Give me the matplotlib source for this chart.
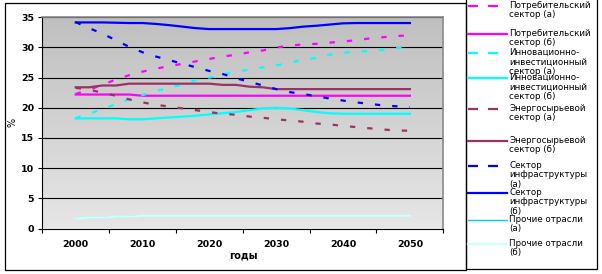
import numpy as np
import matplotlib
matplotlib.use("Agg")
import matplotlib.pyplot as plt
from matplotlib.lines import Line2D
from matplotlib.patches import Rectangle

# years of the readings (every 2 years)
years = list(range(2000, 2051, 2))

consumer_a = [22.3, 23.0, 23.8, 24.7, 25.4, 26.0, 26.5, 26.9, 27.3, 27.7, 28.1, 28.5, 28.8,
              29.2, 29.5, 30.0, 30.3, 30.5, 30.6, 30.8, 31.0, 31.2, 31.5, 31.7, 31.9, 32.0]
consumer_b = [22.2, 22.2, 22.2, 22.2, 22.2, 22.0, 22.0, 22.0, 22.0, 22.0, 22.0, 22.0, 22.0,
              22.0, 22.0, 22.0, 22.0, 22.0, 22.0, 22.0, 22.0, 22.0, 22.0, 22.0, 22.0, 22.0]
innov_a = [18.3, 19.0, 19.8, 20.6, 21.4, 22.1, 22.8, 23.3, 23.9, 24.6, 25.0, 25.5, 26.0,
           26.3, 26.7, 27.0, 27.5, 27.9, 28.3, 28.8, 29.1, 29.3, 29.4, 29.6, 29.9, 30.1]
innov_b = [18.25, 18.25, 18.25, 18.25, 18.1, 18.1, 18.25, 18.4, 18.55, 18.7, 18.9, 19.1, 19.3,
           19.6, 19.9, 20.0, 19.9, 19.6, 19.3, 19.1, 19.0, 19.0, 19.0, 19.0, 19.0, 19.0]
energy_a = [23.3, 23.0, 22.5, 22.0, 21.4, 20.9, 20.5, 20.2, 19.9, 19.6, 19.3, 19.0, 18.85,
            18.55, 18.35, 18.1, 17.9, 17.7, 17.4, 17.25, 17.0, 16.8, 16.6, 16.4, 16.25, 16.2]
energy_b = [23.4, 23.4, 23.7, 23.7, 24.0, 24.0, 24.0, 24.0, 24.0, 24.0, 24.0, 23.8, 23.8,
            23.5, 23.4, 23.1, 23.1, 23.1, 23.1, 23.1, 23.1, 23.1, 23.1, 23.1, 23.1, 23.1]
infra_a = [34.2, 33.2, 32.3, 31.2, 30.1, 29.2, 28.5, 27.9, 27.3, 26.7, 26.1, 25.6, 24.9,
           24.3, 23.7, 23.1, 22.6, 22.3, 21.9, 21.55, 21.2, 20.9, 20.65, 20.4, 20.25, 20.1]
infra_b = [34.15, 34.15, 34.15, 34.1, 34.05, 34.05, 33.9, 33.7, 33.45, 33.2, 33.05, 33.05, 33.05,
           33.05, 33.05, 33.05, 33.2, 33.45, 33.6, 33.8, 34.0, 34.05, 34.05, 34.05, 34.05, 34.05]
other_a = [1.65, 1.8, 1.8, 1.95, 1.95, 2.1, 2.1, 2.1, 2.1, 2.1, 2.1, 2.1, 2.1,
           2.1, 2.1, 2.1, 2.1, 2.1, 2.1, 2.1, 2.1, 2.1, 2.1, 2.1, 2.1, 2.1]
other_b = [1.65, 1.8, 1.8, 1.95, 1.95, 2.1, 2.1, 2.1, 2.1, 2.1, 2.1, 2.1, 2.1,
           2.1, 2.1, 2.1, 2.1, 2.1, 2.1, 2.1, 2.1, 2.1, 2.1, 2.1, 2.1, 2.1]

labels = ['Потребительский\nсектор (а)', 'Потребительский\nсектор (б)',
          'Инновационно-\nинвестиционный\nсектор (а)', 'Инновационно-\nинвестиционный\nсектор (б)',
          'Энергосырьевой\nсектор (а)', 'Энергосырьевой\nсектор (б)',
          'Сектор\nинфраструктуры\n(а)', 'Сектор\nинфраструктуры\n(б)',
          'Прочие отрасли\n(а)', 'Прочие отрасли\n(б)']
series = [consumer_a, consumer_b, innov_a, innov_b, energy_a, energy_b,
          infra_a, infra_b, other_a, other_b]
colors = ['#ff00ff', '#ff00ff', '#00ffff', '#00ffff', '#993366', '#993366',
          '#0000ff', '#0000ff', '#00ccff', '#ccffff']
dashed = [True, False, True, False, True, False, True, False, False, False]
widths = [1.6, 1.6, 1.6, 1.6, 1.6, 1.6, 1.6, 1.6, 1.0, 1.6]
# y (px) of the first text line of each legend entry
legend_y = [5, 33, 52, 77, 108, 140, 165, 192, 219, 243]

W, H = 602, 274
fig = plt.figure(figsize=(W / 100, H / 100), dpi=100)
fig.patch.set_facecolor('white')

ax = fig.add_axes([42.3 / W, 1 - 228.5 / H, 401 / W, 211.2 / H])

# gradient background of the plot area
grad = np.linspace(0, 1, 256).reshape(-1, 1)
cmap = matplotlib.colors.LinearSegmentedColormap.from_list('g', ['#bfbfbf', '#e6e6e6'])
ax.imshow(grad, cmap=cmap, extent=[0, 1, 0, 1], transform=ax.transAxes,
          aspect='auto', zorder=0)

for s, c, d, w in zip(series, colors, dashed, widths):
    ls = (0, (2.4, 5.4)) if d else '-'
    ax.plot(years, s, color=c, lw=w, linestyle=ls, zorder=3)

ax.set_xlim(1995, 2055)
ax.set_ylim(0, 35)
ax.set_yticks(range(0, 36, 5))
ax.set_xticks(range(1995, 2056, 10))
ax.set_xticklabels([])
ax.set_xticks(range(2000, 2051, 10), minor=True)
ax.set_xticklabels([str(y) for y in range(2000, 2051, 10)], minor=True)
ax.tick_params(axis='x', which='minor', length=0, pad=8)
ax.tick_params(axis='x', which='major', length=3, width=0.8, direction='out')
ax.tick_params(axis='y', length=3, width=0.8, direction='out', pad=3)
for lab in ax.get_xticklabels(minor=True) + ax.get_yticklabels():
    lab.set_fontsize(6.8)
    lab.set_fontweight('bold')
ax.grid(axis='y', color='black', lw=0.8, zorder=1)
ax.set_axisbelow(True)
for side in ['top', 'right']:
    ax.spines[side].set_color('#8a8a8a')
    ax.spines[side].set_linewidth(1.2)
for side in ['left', 'bottom']:
    ax.spines[side].set_color('black')
    ax.spines[side].set_linewidth(0.8)

fig.text(243 / W, 1 - 256 / H, 'годы', fontsize=7, fontweight='bold', ha='center', va='center')
fig.text(13 / W, 1 - 122 / H, '%', fontsize=7, rotation=90, ha='center', va='center')

# outer chart frame and legend frame
fig.patches.append(Rectangle((5 / W, 1 - 270 / H), 461 / W, 267 / H, fill=False,
                             edgecolor='black', lw=0.9, transform=fig.transFigure))
fig.patches.append(Rectangle((466 / W, 1 - 269 / H), 131 / W, 272 / H, fill=False,
                             edgecolor='black', lw=0.9, transform=fig.transFigure))

# legend entries
for lab, c, d, w, yy in zip(labels, colors, dashed, widths, legend_y):
    ls = (0, (10 / 1.6 * 0.72, 10 / 1.6 * 0.72)) if d else '-'
    y = 1 - (yy + 0.5) / H
    fig.lines.append(Line2D([468 / W, 507 / W], [y, y], color=c, lw=w, linestyle=ls,
                            transform=fig.transFigure))
    fig.text(509 / W, 1 - (yy - 4) / H, lab, fontsize=6.3, va='top', ha='left',
             linespacing=1.05)

fig.savefig('out.png', dpi=100)
